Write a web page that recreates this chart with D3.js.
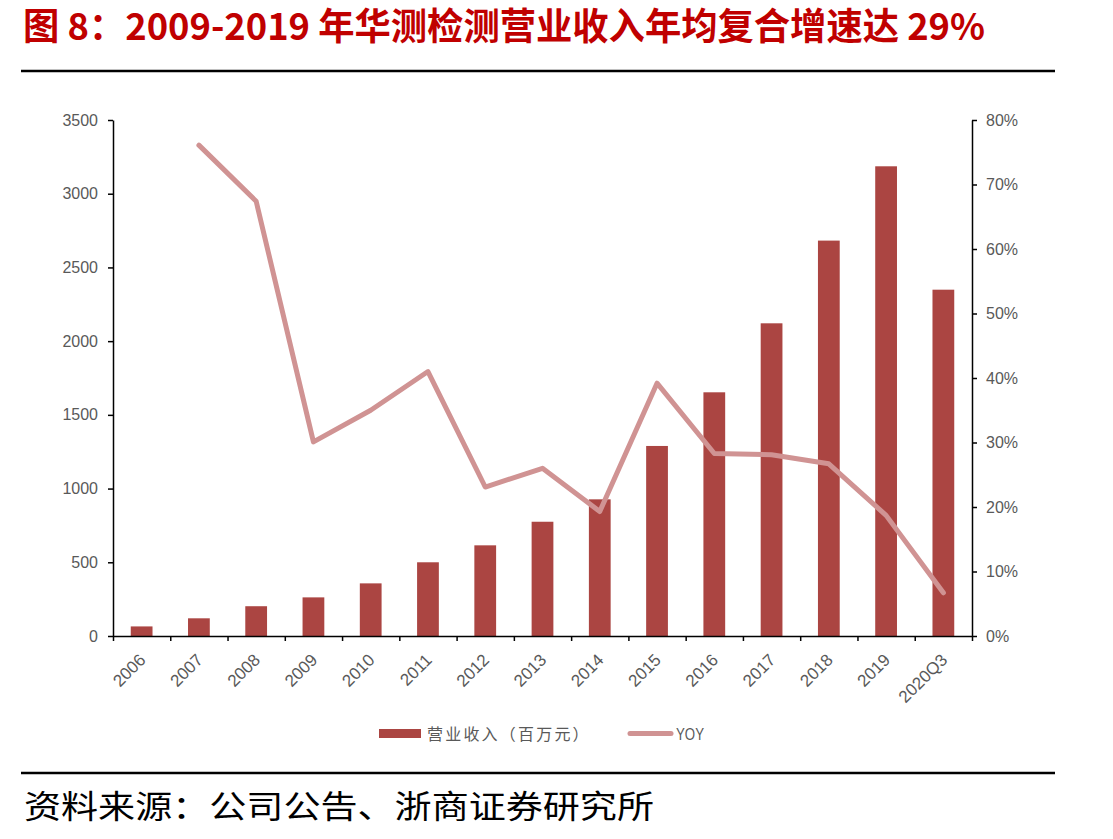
<!DOCTYPE html>
<html>
<head>
<meta charset="utf-8">
<script src="https://cdn.jsdelivr.net/npm/d3@7"></script>
<style>
  body { margin: 0; background: #fff; }
  .tick text { font-family: "Liberation Sans", Arial, sans-serif; font-size: 16px; fill: #595959; }
  .axis path, .axis line { stroke: #000; stroke-width: 1.5; }
</style>
</head>
<body>
<svg width="1113" height="839"></svg>
<script>
const categories = ['2006', '2007', '2008', '2009', '2010', '2011', '2012', '2013',
  '2014', '2015', '2016', '2017', '2018', '2019', '2020Q3'];
const revenue = [65, 120, 202, 262, 357, 500, 615, 775, 927, 1289, 1653, 2121, 2682, 3186, 2349];
const yoy = [null, 0.761, 0.674, 0.301, 0.350, 0.410, 0.231, 0.260, 0.193, 0.392, 0.283, 0.281, 0.267, 0.187, 0.067];
const leftTicks = [0, 500, 1000, 1500, 2000, 2500, 3000, 3500];
const rightTicks = [0, 0.1, 0.2, 0.3, 0.4, 0.5, 0.6, 0.7, 0.8];

const svg = d3.select('svg');
const width = +svg.attr('width');

const margin = { top: 120, left: 113, right: 141, bottom: 203 };
const innerWidth = width - margin.left - margin.right;
const innerHeight = 839 - margin.top - margin.bottom;

const barColor = '#AB4542';
const lineColor = '#D09393';
const cjk = '"Noto Sans CJK SC", sans-serif';

// title + rules
svg.append('text')
  .attr('x', 23)
  .attr('y', 40)
  .attr('textLength', 962)
  .attr('lengthAdjust', 'spacingAndGlyphs')
  .style('font-family', cjk)
  .style('font-weight', 'bold')
  .style('font-size', '37px')
  .attr('fill', '#C00000')
  .text('图 8：2009-2019 年华测检测营业收入年均复合增速达 29%');

svg.append('line')
  .attr('x1', 21).attr('x2', 1055)
  .attr('y1', 71).attr('y2', 71)
  .attr('stroke', '#000').attr('stroke-width', 2.5);

svg.append('line')
  .attr('x1', 21).attr('x2', 1055)
  .attr('y1', 773).attr('y2', 773)
  .attr('stroke', '#000').attr('stroke-width', 2.5);

svg.append('text')
  .attr('x', 24)
  .attr('y', 818)
  .attr('textLength', 630)
  .attr('lengthAdjust', 'spacingAndGlyphs')
  .style('font-family', cjk)
  .style('font-size', '32px')
  .attr('fill', '#000')
  .text('资料来源：公司公告、浙商证券研究所');

const root = svg.append('g')
  .attr('transform', `translate(${margin.left}, ${margin.top})`);

const xScale = d3.scaleBand()
  .domain(categories)
  .range([0, innerWidth])
  .paddingInner(0.62)
  .paddingOuter(0.31);

const xEdges = d3.scaleLinear()
  .domain([0, categories.length])
  .range([0, innerWidth]);

const yLeft = d3.scaleLinear().domain([0, 3500]).range([innerHeight, 0]);
const yRight = d3.scaleLinear().domain([0, 0.8]).range([innerHeight, 0]);

// bars
root.selectAll('rect.bar')
  .data(revenue)
  .enter()
  .append('rect')
    .attr('class', 'bar')
    .attr('x', (d, i) => xScale(categories[i]))
    .attr('width', xScale.bandwidth())
    .attr('y', d => yLeft(d))
    .attr('height', d => innerHeight - yLeft(d))
    .attr('fill', barColor);

// axes
root.append('g')
  .attr('class', 'axis')
  .call(d3.axisLeft(yLeft).tickValues(leftTicks).tickSize(5).tickSizeOuter(0).tickPadding(10)
    .tickFormat(d3.format('d')));

root.append('g')
  .attr('class', 'axis')
  .attr('transform', `translate(${innerWidth}, 0)`)
  .call(d3.axisRight(yRight).tickValues(rightTicks).tickSize(5).tickSizeOuter(0).tickPadding(9)
    .tickFormat(d3.format('.0%')));

const xAxisGroup = root.append('g')
  .attr('class', 'axis')
  .attr('transform', `translate(0, ${innerHeight})`)
  .call(d3.axisBottom(xEdges).ticks(categories.length).tickSize(5).tickSizeOuter(0).tickFormat(''));

xAxisGroup.selectAll('text.cat')
  .data(categories)
  .enter()
  .append('text')
    .attr('class', 'cat')
    .attr('transform', d => `translate(${xScale(d) + xScale.bandwidth() / 2 + 5}, 25) rotate(-45)`)
    .attr('text-anchor', 'end')
    .style('font-family', '"Liberation Sans", Arial, sans-serif')
    .style('font-size', '17px')
    .attr('fill', '#595959')
    .text(d => d);

// yoy line
const line = d3.line()
  .defined(d => d != null)
  .x((d, i) => xScale(categories[i]) + xScale.bandwidth() / 2)
  .y(d => yRight(d));

root.append('path')
  .datum(yoy)
  .attr('d', line)
  .attr('fill', 'none')
  .attr('stroke', lineColor)
  .attr('stroke-width', 5)
  .attr('stroke-linejoin', 'round')
  .attr('stroke-linecap', 'round');

// legend
const legend = svg.append('g');
legend.append('rect')
  .attr('x', 379).attr('y', 729)
  .attr('width', 42).attr('height', 9)
  .attr('fill', barColor);
legend.append('text')
  .attr('x', 427).attr('y', 740)
  .style('font-family', cjk)
  .style('font-size', '16px')
  .style('letter-spacing', '2.2px')
  .attr('fill', '#595959')
  .text('营业收入（百万元）');
legend.append('line')
  .attr('x1', 630).attr('x2', 671)
  .attr('y1', 733.5).attr('y2', 733.5)
  .attr('stroke', lineColor)
  .attr('stroke-width', 5)
  .attr('stroke-linecap', 'round');
legend.append('text')
  .attr('x', 676).attr('y', 740)
  .attr('textLength', 28)
  .attr('lengthAdjust', 'spacingAndGlyphs')
  .style('font-family', '"Liberation Sans", Arial, sans-serif')
  .style('font-size', '17px')
  .attr('fill', '#595959')
  .text('YOY');
</script>
</body>
</html>
